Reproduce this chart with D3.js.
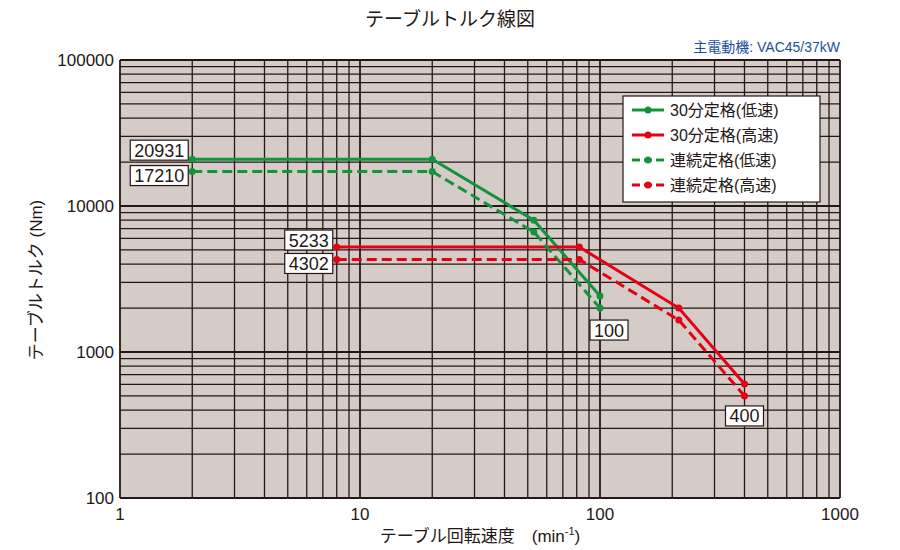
<!DOCTYPE html>
<html><head><meta charset="utf-8">
<script src="https://cdn.jsdelivr.net/npm/d3@7"></script>
<style>body{margin:0;background:#fff;font-family:"Liberation Sans","Noto Sans CJK JP",sans-serif}</style>
</head><body><svg id="c" width="900" height="550"></svg>
<script>
// series: [speed, torque]
const greenSolid = [[2, 20931], [20, 20931], [53, 8000], [100, 2420]];
const greenDash = [[2, 17210], [20, 17210], [53, 6640], [100, 2000]];
const redSolid = [[8, 5233], [82, 5233], [213, 2000], [400, 604]];
const redDash = [[8, 4302], [82, 4302], [213, 1655], [400, 500]];
const legendNames = ["30分定格(低速)", "30分定格(高速)", "連続定格(低速)", "連続定格(高速)"];
const xTicks = [1, 10, 100, 1000];
const yTicks = [100, 1000, 10000, 100000];
const valueLabels = [[2, 20931, "20931", -9], [2, 17210, "17210", 4], [8, 5233, "5233", -7], [8, 4302, "4302", 4]];

const svg = d3.select("#c");
const L = 120, R = 840, T = 60, B = 498;
const x = d3.scaleLog().domain([1, 1000]).range([L, R]);
const y = d3.scaleLog().domain([100, 100000]).range([B, T]);

svg.append("rect").attr("x", L).attr("y", T).attr("width", R - L).attr("height", B - T).attr("fill", "#d5ccc8");

const minor = [];
for (let d = 1; d < 1000; d *= 10) for (let k = 1; k < 10; k++) minor.push(d * k);
minor.push(1000);
const minorY = [];
for (let d = 100; d < 100000; d *= 10) for (let k = 1; k < 10; k++) minorY.push(d * k);
minorY.push(100000);

const grid = svg.append("g").attr("stroke", "#231815");
grid.selectAll(".gx").data(minor).join("line")
  .attr("x1", d => x(d)).attr("x2", d => x(d)).attr("y1", T).attr("y2", B)
  .attr("stroke-width", d => xTicks.includes(d) ? 1.8 : 1.3);
grid.selectAll(".gy").data(minorY).join("line")
  .attr("y1", d => y(d)).attr("y2", d => y(d)).attr("x1", L).attr("x2", R)
  .attr("stroke-width", d => yTicks.includes(d) ? 1.8 : 1.3);

svg.selectAll(".xt").data(xTicks).join("text")
  .attr("x", d => x(d)).attr("y", B + 22).attr("text-anchor", "middle")
  .attr("font-size", 17).attr("fill", "#231815").text(d => d);
svg.selectAll(".yt").data(yTicks).join("text")
  .attr("x", L - 6).attr("y", d => y(d) + 6).attr("text-anchor", "end")
  .attr("font-size", 17).attr("fill", "#231815").text(d => d);

const line = d3.line().x(d => x(d[0])).y(d => y(d[1]));
const series = [
  [greenSolid, "#13943c", null],
  [redSolid, "#e60012", null],
  [greenDash, "#13943c", "10,5"],
  [redDash, "#e60012", "10,5"]
];
series.forEach(([data, col, dash]) => {
  svg.append("path").datum(data).attr("d", line).attr("fill", "none")
    .attr("stroke", col).attr("stroke-width", 3).attr("stroke-dasharray", dash);
  svg.selectAll(null).data(data).join("circle")
    .attr("cx", d => x(d[0])).attr("cy", d => y(d[1])).attr("r", 3.5).attr("fill", col);
});

function box(cx, cy, txt, anchor) {
  const w = txt.length * 10 + 8, h = 20;
  const bx = anchor === "end" ? cx - w : cx - w / 2;
  svg.append("rect").attr("x", bx).attr("y", cy - h / 2).attr("width", w).attr("height", h)
    .attr("fill", "#fff").attr("stroke", "#231815").attr("stroke-width", 1.2);
  svg.append("text").attr("x", bx + w / 2).attr("y", cy + 6.5).attr("text-anchor", "middle")
    .attr("font-size", 18).attr("fill", "#231815").text(txt);
}
valueLabels.forEach(([sx, tq, t, off]) => box(x(sx) - 4, y(tq) + off, t, "end"));
box(x(100) + 9, y(2000) + 22, "100");
box(x(400) + 0, y(500) + 20, "400");

// legend
const lg = svg.append("g");
lg.append("rect").attr("x", 623).attr("y", 96).attr("width", 197).attr("height", 106)
  .attr("fill", "#fff").attr("stroke", "#231815").attr("stroke-width", 1.2);
legendNames.forEach((n, i) => {
  const s = series[i];
  const ly = 110 + i * 25;
  lg.append("line").attr("x1", 632).attr("x2", 664).attr("y1", ly).attr("y2", ly)
    .attr("stroke", s[1]).attr("stroke-width", 3).attr("stroke-dasharray", s[2] ? "8,4" : null);
  lg.append("circle").attr("cx", 648).attr("cy", ly).attr("r", 3.5).attr("fill", s[1]);
  lg.append("text").attr("x", 670).attr("y", ly + 6).attr("font-size", 16).attr("fill", "#231815").text(n);
});

svg.append("text").attr("x", 450).attr("y", 26).attr("text-anchor", "middle")
  .attr("font-size", 19).attr("fill", "#231815").text("テーブルトルク線図");
svg.append("text").attr("x", 840).attr("y", 52).attr("text-anchor", "end")
  .attr("font-size", 14).attr("fill", "#1d4f9f").text("主電動機: VAC45/37kW");
const xl = svg.append("text").attr("x", 480).attr("y", 542).attr("text-anchor", "middle")
  .attr("font-size", 17).attr("fill", "#231815");
xl.append("tspan").text("テーブル回転速度　(min");
xl.append("tspan").attr("font-size", 11).attr("dy", -7).text("-1");
xl.append("tspan").attr("dy", 7).text(")");
svg.append("text").attr("transform", "translate(42,280) rotate(-90)").attr("text-anchor", "middle")
  .attr("font-size", 17).attr("fill", "#231815").text("テーブルトルク (Nm)");
</script></body></html>
